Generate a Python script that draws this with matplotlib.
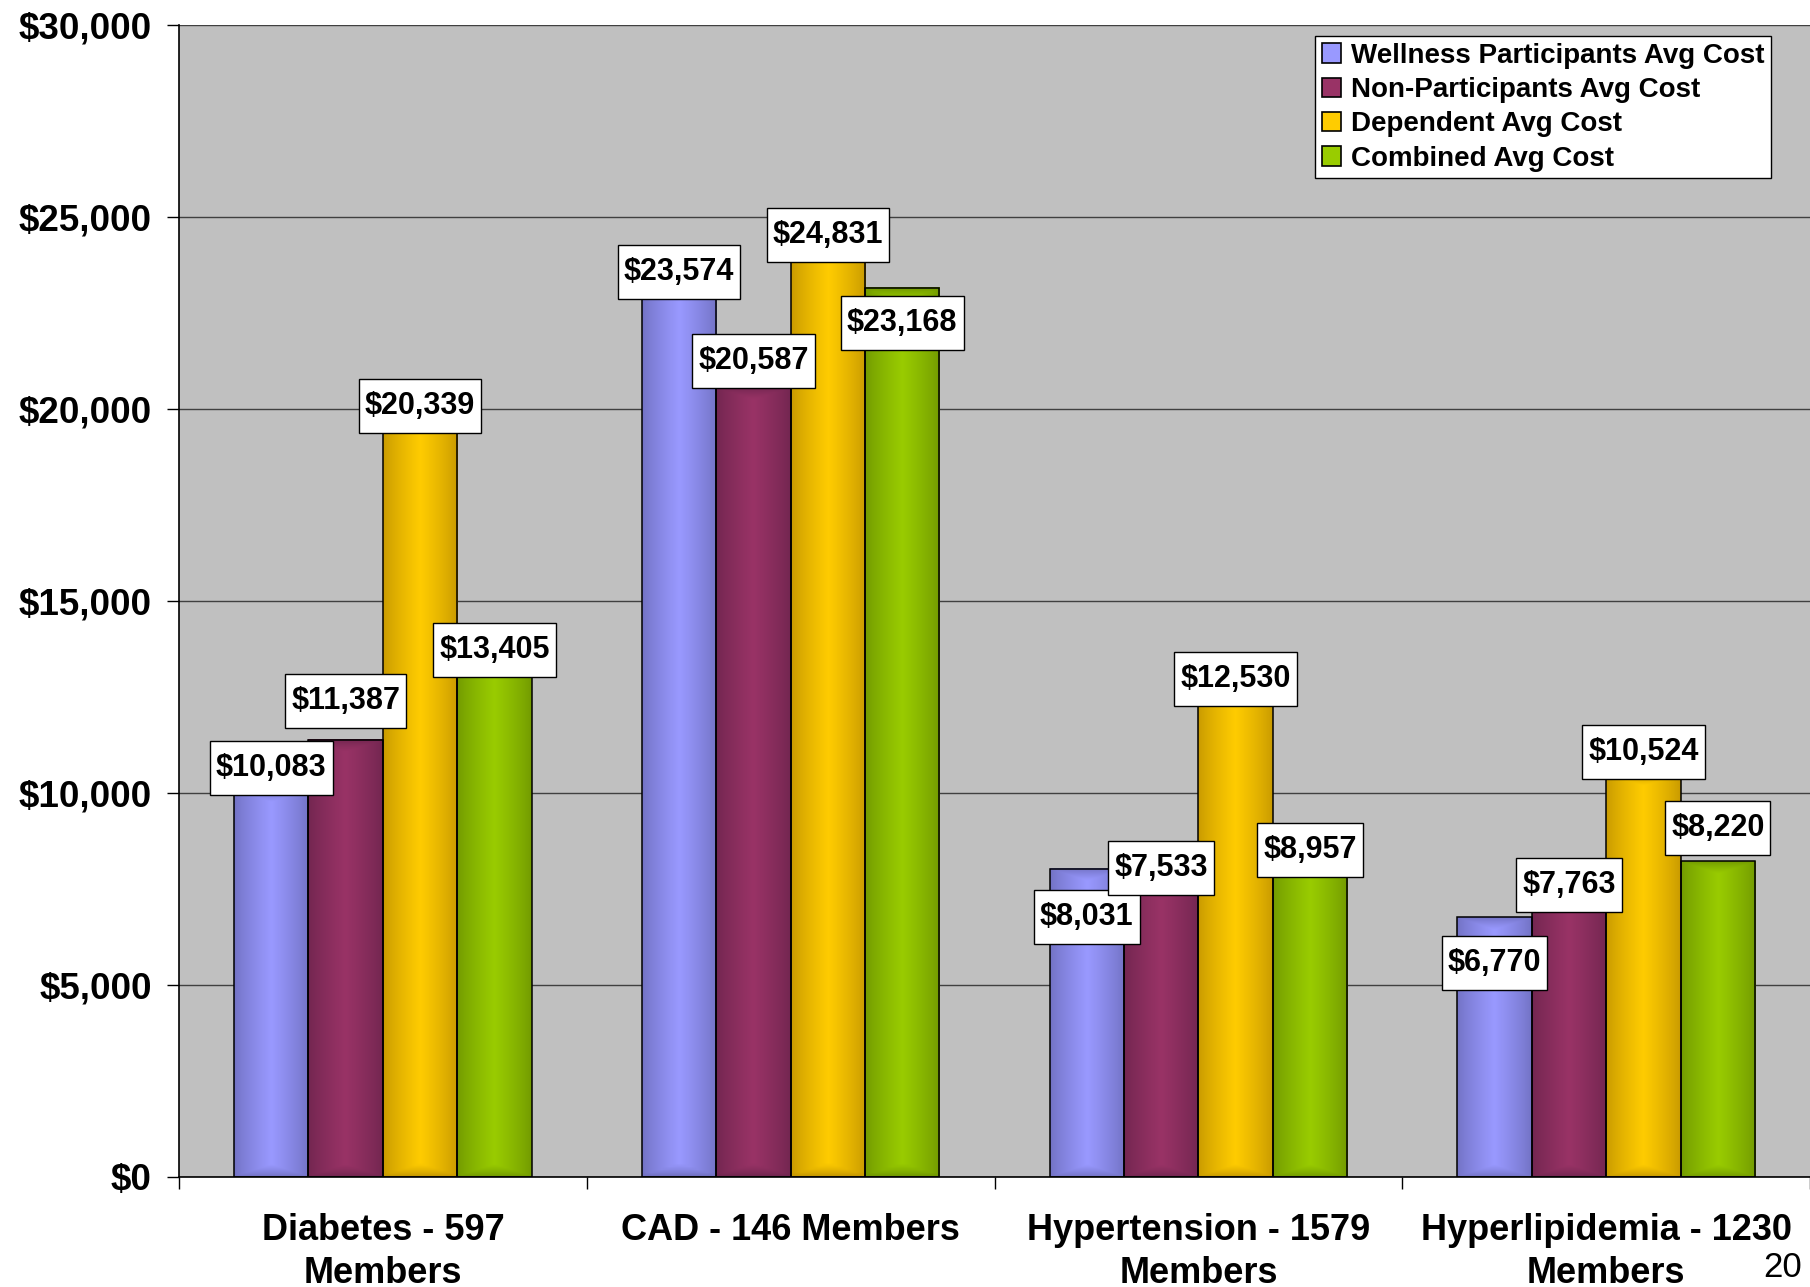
import numpy as np
import matplotlib.pyplot as plt
from matplotlib.patches import Patch, Rectangle
from matplotlib.ticker import FuncFormatter, FixedLocator

plt.rcParams['font.family'] = ['Liberation Sans', 'DejaVu Sans']

# ---------------------
# data
categories = ['Diabetes - 597\nMembers', 'CAD - 146 Members',
              'Hypertension - 1579\nMembers', 'Hyperlipidemia - 1230\nMembers']
series_names = ['Wellness Participants Avg Cost', 'Non-Participants Avg Cost',
                'Dependent Avg Cost', 'Combined Avg Cost']
wellness = [10083, 23574, 8031, 6770]
non_participants = [11387, 20587, 7533, 7763]
dependent = [20339, 24831, 12530, 10524]
combined = [13405, 23168, 8957, 8220]
series_values = [wellness, non_participants, dependent, combined]

# label nudges (dollars) so the boxes don't sit on top of each other
label_shift = [[560, 0, -1270, -1200],
               [1020, 660, 520, -150],
               [-260, -300, 450, 540],
               [330, -930, -450, 860]]

# centre / edge colours for the shaded bars
light = ['#9999FF', '#993366', '#FFCC00', '#99CC00']
dark = ['#7272C4', '#722650', '#C89A00', '#729A00']


def hex_rgb(c):
    c = c.lstrip('#')
    return np.array([int(c[i:i + 2], 16) for i in (0, 2, 4)]) / 255.0


def shade(ax, patch, c_light, c_dark):
    # rectangular "from centre" gradient inside one bar
    x0, w, h = patch.get_x(), patch.get_width(), patch.get_height()
    nx, ny = 60, 300
    u = np.abs(np.linspace(-1, 1, nx))[None, :]
    v = np.abs(np.linspace(-1, 1, ny))[:, None]
    # bars are tall, so keep the vertical falloff near the top/bottom edges
    v_scaled = np.clip((v - (1 - w * 3.5 / max(h, 1) * 1000)), 0, None)
    f = 1 - np.maximum(u, np.minimum(v_scaled / max(1e-9, v_scaled.max()), 1))
    f = f ** 0.8
    lo, hi = hex_rgb(c_dark), hex_rgb(c_light)
    img = lo[None, None, :] + (hi - lo)[None, None, :] * f[:, :, None]
    ax.imshow(img, extent=[x0, x0 + w, 0, h], aspect='auto',
              origin='lower', zorder=2, interpolation='bilinear')


fig = plt.figure(figsize=(18.10, 12.87), dpi=100)
ax = fig.add_axes([0.0989, 0.0855, 0.9011, 0.8948])
ax.set_facecolor('#C0C0C0')

x = np.arange(len(categories))
width = 0.1825
offsets = (np.arange(4) - 1.5) * width

value_texts = []
for i, vals in enumerate(series_values):
    bars = ax.bar(x + offsets[i], vals, width, facecolor='none',
                  edgecolor='black', linewidth=1.1, zorder=3)
    for j, b in enumerate(bars):
        shade(ax, b, light[i], dark[i])
        t = ax.text(b.get_x() + b.get_width() / 2, vals[j] + label_shift[i][j],
                    '${:,}'.format(vals[j]), ha='center', va='center',
                    fontsize=22, fontweight='bold', zorder=6)
        value_texts.append(t)

ax.set_xlim(-0.5, 3.5)
ax.set_ylim(0, 30000)

# y axis
ax.set_yticks(np.arange(0, 30001, 5000))
ax.yaxis.set_major_formatter(FuncFormatter(lambda v, p: '${:,.0f}'.format(v)))
ax.tick_params(axis='y', length=8.5, width=1.0, pad=11, labelsize=26.5)
for t in ax.get_yticklabels():
    t.set_fontweight('bold')
ax.yaxis.grid(True, color='#404040', linewidth=1.0, zorder=0.5)
ax.set_axisbelow(True)

# x axis: tick marks between groups, names centred under groups
ax.xaxis.set_major_locator(FixedLocator([-0.5, 0.5, 1.5, 2.5, 3.5]))
ax.xaxis.set_minor_locator(FixedLocator(x))
ax.set_xticklabels([])
ax.set_xticklabels(categories, minor=True, fontsize=26, fontweight='bold',
                   linespacing=1.3)
ax.tick_params(axis='x', which='major', length=8.5, width=1.0)
ax.tick_params(axis='x', which='minor', length=0, pad=26)

for s in ['top', 'right']:
    ax.spines[s].set_visible(False)
ax.spines['left'].set_linewidth(1.2)
ax.spines['bottom'].set_linewidth(1.2)

handles = [Patch(facecolor=light[i], edgecolor='black', linewidth=1.2)
           for i in range(4)]
leg = ax.legend(handles, series_names, loc='upper right',
                bbox_to_anchor=(0.9785, 0.972), bbox_transform=fig.transFigure,
                borderaxespad=0, fancybox=False, framealpha=1,
                edgecolor='black', handlelength=0.7, handleheight=0.7,
                handletextpad=0.35, labelspacing=0.3, borderpad=0.24,
                prop={'size': 20, 'weight': 'bold'})
leg.get_frame().set_linewidth(1.0)
leg.set_zorder(10)

fig.text(0.974, 0.008, '20', fontsize=25, ha='left', va='baseline')

# white boxes behind the value labels: tight at the sides, roomier top/bottom
fig.canvas.draw()
renderer = fig.canvas.get_renderer()
inv = ax.transData.inverted()
for t in value_texts:
    bb = t.get_window_extent(renderer)
    pad_x, box_h = 6, 54
    cy = (bb.y0 + bb.y1) / 2
    (x0, y0) = inv.transform((bb.x0 - pad_x, cy - box_h / 2))
    (x1, y1) = inv.transform((bb.x1 + pad_x, cy + box_h / 2))
    ax.add_patch(Rectangle((x0, y0), x1 - x0, y1 - y0, facecolor='white',
                           edgecolor='black', linewidth=1.0, zorder=5))

fig.savefig('out.png', dpi=100)
